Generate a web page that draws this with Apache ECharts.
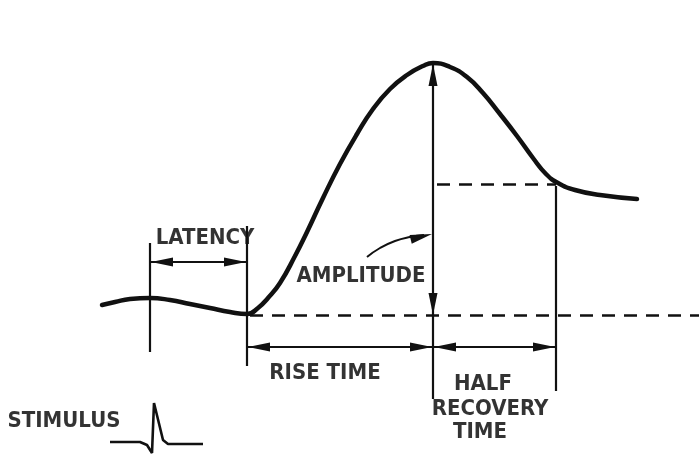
<!DOCTYPE html>
<html>
<head>
<meta charset="utf-8">
<script src="https://cdn.jsdelivr.net/npm/echarts@6/dist/echarts.min.js"></script>
<style>
html,body{margin:0;padding:0;background:#fff;}
#chart{width:699px;height:454px;}
</style>
</head>
<body>
<div id="chart"></div>
<script>
// Response curve (x = time units, y = level units, drawn in an inverted frame)
const curveX = [102,115,130,150,170,190,210,230,247,258,268,280,295,307,323,340,357,373,390,407,423,433,450,467,483,500,517,533,546,558,575,600,637];
const curveY = [305,302,299,298,300,304,308,312,314,308,298,283,256,232,198,164,134,109,89,75,66,63,67,77,93,114,136,158,174,183,190,195,199];

// Dashed reference segments: [x1, y1, x2, y2]
const dashedSegs = [[250,315,699,315],[437,184,556,184]];
// Solid guide segments
const guideSegs = [[150,243,150,352],[247,226,247,366],[433,64,433,399],[556,186,556,391]];
// Double-headed interval arrows: [x1, x2, y]
const intervalArrows = [[150,247,262],[247,433,347],[433,556,347]];
// Arrow tips: [x, y, dirX, dirY]
const arrowTips = [
  [151,262,-1,0],[246,262,1,0],
  [248,347,-1,0],[432,347,1,0],
  [434,347,-1,0],[555,347,1,0],
  [433,64,0,-1],[433,315,0,1],
  [432,234,0.97,-0.24]
];
// Curved pointer from the AMPLITUDE label
const pointerX = [367,380,395,410,424];
const pointerY = [257,248,241,237,235];
// Stimulus trace
const stimX = [110,140,147,152,154,163,168,203];
const stimY = [442,442,445,453,403,440,444,444];

// Labels
const labelText = ['LATENCY','AMPLITUDE','RISE TIME','HALF','RECOVERY','TIME','STIMULUS'];
const labelX = [205,361,325,483,490,480,64];
const labelY = [238,276,373,384,409,432,421];

const chart = echarts.init(document.getElementById('chart'));
const ink = '#111';
const font = '"DejaVu Sans Condensed","Liberation Sans Narrow","DejaVu Sans",sans-serif';

function seg(s){ return [{coord:[s[0],s[1]]},{coord:[s[2],s[3]]}]; }

const option = {
  animation:false,
  backgroundColor:'#fff',
  grid:{left:0,right:0,top:0,bottom:0},
  xAxis:{type:'value',min:0,max:699,show:false},
  yAxis:{type:'value',min:0,max:454,inverse:true,show:false},
  series:[
    {
      type:'line',
      data:curveX.map((x,i)=>[x,curveY[i]]),
      smooth:0.5,
      showSymbol:false,
      lineStyle:{color:ink,width:4.5,cap:'round',join:'round'},
      z:5,
      markLine:{
        silent:true,
        symbol:['none','none'],
        label:{show:false},
        lineStyle:{color:ink,width:2.5,type:[13,9]},
        data:dashedSegs.map(seg)
      }
    },
    {
      type:'line',
      data:[],
      markLine:{
        silent:true,
        symbol:['none','none'],
        label:{show:false},
        lineStyle:{color:ink,width:2.2,type:'solid'},
        data:guideSegs.map(seg).concat(intervalArrows.map(a=>[{coord:[a[0],a[2]]},{coord:[a[1],a[2]]}]))
      }
    },
    {
      type:'line',
      data:pointerX.map((x,i)=>[x,pointerY[i]]),
      smooth:0.5,
      showSymbol:false,
      lineStyle:{color:ink,width:2}
    },
    {
      type:'custom',
      data:arrowTips,
      renderItem:function(params, api){
        const p = api.coord([api.value(0), api.value(1)]);
        const dx = api.value(2), dy = api.value(3);
        const len = 22, hw = 4.5;
        const bx = p[0]-dx*len, by = p[1]-dy*len;
        return {
          type:'polygon',
          shape:{points:[[p[0],p[1]],[bx-dy*hw,by+dx*hw],[bx+dy*hw,by-dx*hw]]},
          style:{fill:ink}
        };
      },
      z:6
    },
    {
      type:'line',
      data:stimX.map((x,i)=>[x,stimY[i]]),
      showSymbol:false,
      lineStyle:{color:ink,width:2.6},
      smooth:false
    },
    {
      type:'scatter',
      symbolSize:0,
      data:labelText.map((t,i)=>({value:[labelX[i],labelY[i]],name:t})),
      label:{
        show:true,
        position:[0,0],
        align:'center',
        verticalAlign:'middle',
        formatter:p=>p.name,
        color:'#000',
        fontFamily:font,
        fontWeight:'bold',
        fontSize:22
      }
    }
  ]
};
chart.setOption(option);
</script>
</body>
</html>
